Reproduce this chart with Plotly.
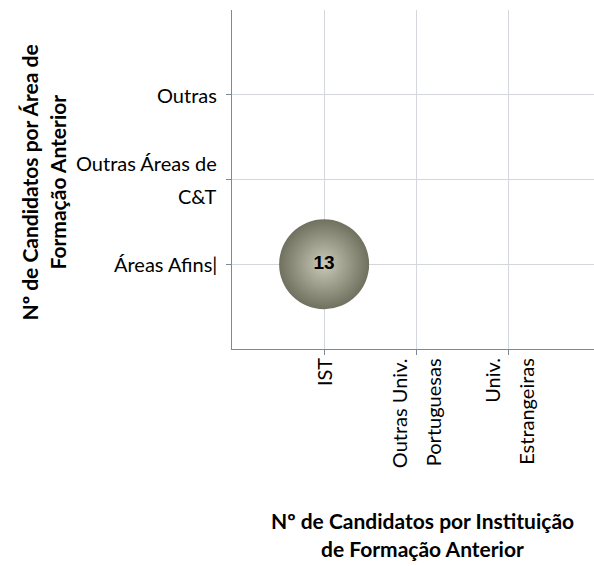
import plotly.graph_objects as go

# ---- data ----
x_categories = ["IST", "Outras Univ.|Portuguesas", "Univ.|Estrangeiras"]
y_categories = ["Áreas Afins|", "Outras Áreas de|C&T", "Outras"]
bubble_x = [1]
bubble_y = [1]
bubble_count = [13]

x_title_lines = ["Nº de Candidatos por Instituição", "de Formação Anterior"]
y_title_lines = ["Nº de Candidatos por Área de", "Formação Anterior"]

TICK_FONT = dict(family="Lato, Open Sans, sans-serif", size=20, color="#000000")
TITLE_FONT = dict(family="Lato, Open Sans, sans-serif", size=21, color="#000000")
GRID = "#d3d7dc"
AXIS = "#7d8996"

fig = go.Figure()
fig.add_trace(go.Scatter(
    x=bubble_x, y=bubble_y, mode="markers+text",
    text=[str(v) for v in bubble_count],
    textposition="middle center",
    textfont=dict(family="Liberation Sans, Arial, sans-serif", size=19, color="#000000"),
    marker=dict(size=bubble_count, sizemode="diameter", sizeref=max(bubble_count) / 90,
                color="#6f705d", opacity=1,
                gradient=dict(type="radial", color="#c9cab8"),
                line=dict(width=0)),
    texttemplate="<b>%{text}</b>",
    hoverinfo="skip", showlegend=False, cliponaxis=False,
))

annotations = []
# x tick labels (rotated, stacked lines)
LINE_SP = 34
for i, lab in enumerate(x_categories):
    parts = lab.split("|")
    n = len(parts)
    for j, p in enumerate(parts):
        annotations.append(dict(
            x=i + 1, xref="x", y=0, yref="paper", yanchor="top", xanchor="center",
            text=p, textangle=-90, showarrow=False, font=TICK_FONT,
            xshift=(j - (n - 1) / 2) * LINE_SP, yshift=-7,
        ))
# y tick labels
for i, lab in enumerate(y_categories):
    parts = lab.split("|")
    if parts[-1] == "":
        parts = [lab]
    n = len(parts)
    for j, p in enumerate(parts):
        annotations.append(dict(
            x=0, xref="paper", y=i + 1, yref="y", xanchor="right", yanchor="middle",
            text=p, showarrow=False, font=TICK_FONT, align="right",
            xshift=-13, yshift=-(j - (n - 1) / 2) * 33,
        ))
# axis titles
for j, t in enumerate(x_title_lines):
    annotations.append(dict(
        x=0.525, xref="paper", y=0, yref="paper", xanchor="center", yanchor="middle",
        text="<b>" + t + "</b>", showarrow=False, font=TITLE_FONT,
        yshift=-171 - j * 28,
    ))
for j, t in enumerate(y_title_lines):
    annotations.append(dict(
        x=0, xref="paper", y=0.5, yref="paper", xanchor="center", yanchor="middle",
        text="<b>" + t + "</b>", textangle=-90, showarrow=False, font=TITLE_FONT,
        xshift=-203 + j * 28, yshift=-3,
    ))

fig.update_layout(
    width=594, height=566,
    margin=dict(l=232, r=0, t=10, b=217),
    paper_bgcolor="white", plot_bgcolor="white",
    annotations=annotations,
    xaxis=dict(range=[0, 3.93], tickvals=[1, 2, 3], showticklabels=False,
               showgrid=True, gridcolor=GRID, gridwidth=1, zeroline=False,
               showline=True, linecolor=AXIS, linewidth=1,
               ticks="outside", ticklen=5, tickcolor=AXIS),
    yaxis=dict(range=[0, 4], tickvals=[1, 2, 3], showticklabels=False,
               showgrid=True, gridcolor=GRID, gridwidth=1, zeroline=False,
               showline=True, linecolor=AXIS, linewidth=1,
               ticks="outside", ticklen=5, tickcolor=AXIS,
               minor=dict(tickvals=[4], showgrid=True, gridcolor=GRID, ticklen=0)),
)

fig.write_html("out.html", config={"displayModeBar": False},
               post_script="document.body.style.margin='0';")
